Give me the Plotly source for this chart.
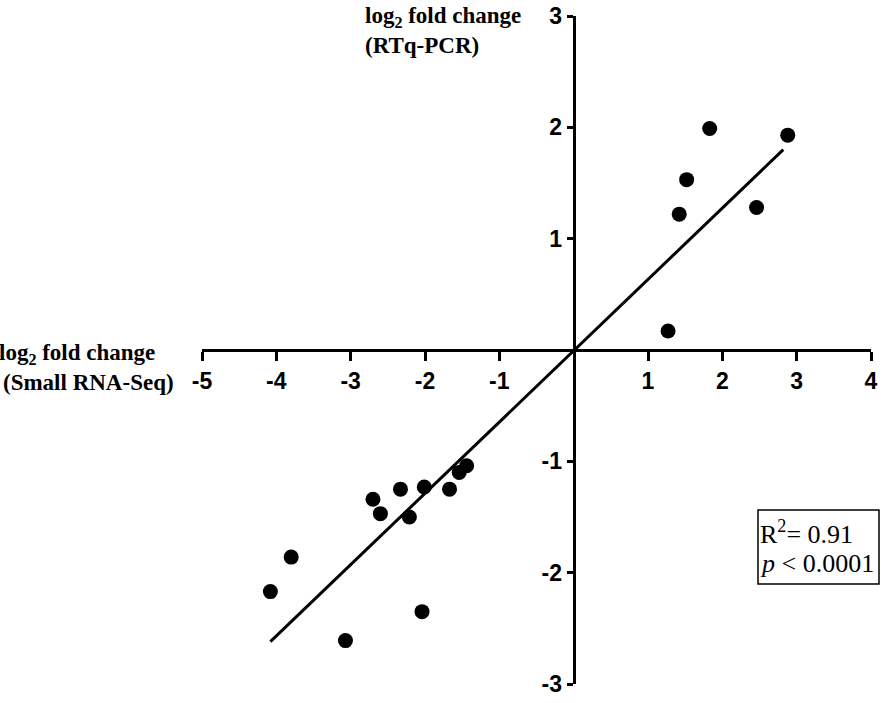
import plotly.graph_objects as go

# Data
seq_x = [1.27, 1.83, 2.88, 1.52, 1.42, 2.46,
         -4.08, -3.80, -3.07, -2.04, -2.70, -2.60, -2.33, -2.21, -2.01, -1.67, -1.54, -1.44]
pcr_y = [0.17, 1.99, 1.93, 1.53, 1.22, 1.28,
         -2.17, -1.86, -2.61, -2.35, -1.34, -1.47, -1.25, -1.50, -1.23, -1.25, -1.10, -1.04]
fit_x = [-4.08, 2.82]
fit_y = [-2.62, 1.80]
x_ticks = [-5, -4, -3, -2, -1, 1, 2, 3, 4]
y_ticks = [-3, -2, -1, 1, 2, 3]
r2_text = "R<sup>2</sup>= 0.91"
p_text = "<i>p</i> < 0.0001"

W, H = 886, 703
L, R, T, B = 202, 15, 16, 19
PW, PH = W - L - R, H - T - B

def px(x):
    return (x - L) / PW

def py(y):
    return (H - B - y) / PH

fig = go.Figure()
fig.add_trace(go.Scatter(x=fit_x, y=fit_y, mode="lines",
                         line=dict(color="black", width=3), hoverinfo="skip"))
fig.add_trace(go.Scatter(x=seq_x, y=pcr_y, mode="markers",
                         marker=dict(color="black", size=15, line=dict(width=0))))

tickfont = dict(family="Liberation Sans, Arial", size=23, color="black")
fig.update_layout(
    width=W, height=H, showlegend=False,
    paper_bgcolor="white", plot_bgcolor="white",
    margin=dict(l=L, r=R, t=T, b=B, autoexpand=False),
    xaxis=dict(range=[-5, 4], anchor="free", position=0.5, automargin=False,
               tickvals=x_ticks, ticktext=["<b>%d</b>" % v for v in x_ticks],
               ticks="outside", ticklen=9, tickwidth=3, tickcolor="black",
               showline=True, linecolor="black", linewidth=3,
               showgrid=False, zeroline=False, tickfont=tickfont),
    yaxis=dict(range=[-3, 3], anchor="free", position=5 / 9, automargin=False,
               tickvals=y_ticks, ticktext=["<b>%d</b>" % v for v in y_ticks],
               ticks="outside", ticklen=6, tickwidth=3, tickcolor="black",
               showline=True, linecolor="black", linewidth=3,
               showgrid=False, zeroline=False, tickfont=tickfont),
)

serif_b = dict(family="Liberation Serif, Times New Roman", size=23, color="black")
def ann(text, x, y, font, xanchor="left"):
    fig.add_annotation(text=text, x=px(x), y=py(y), xref="paper", yref="paper",
                       xanchor=xanchor, yanchor="middle", showarrow=False, font=font,
                       borderpad=0)

ann("<b>log<sub>2</sub> fold change</b>", -2, 354, serif_b)
ann("<b>(Small RNA-Seq)</b>", 2, 383, serif_b)
ann("<b>log<sub>2</sub> fold change</b>", 364, 17, serif_b)
ann("<b>(RTq-PCR)</b>", 364, 46, serif_b)

serif = dict(family="Liberation Serif, Times New Roman", size=26, color="black")
fig.add_shape(type="rect", xref="paper", yref="paper",
              x0=px(758), x1=px(879), y0=py(510), y1=py(584),
              line=dict(color="black", width=1.5), fillcolor="white")
ann(r2_text, 759, 532, serif)
ann(p_text, 759, 563, serif)

fig.write_html("out.html", config={"displayModeBar": False},
               post_script="document.body.style.margin='0';document.body.style.overflow='hidden';")
